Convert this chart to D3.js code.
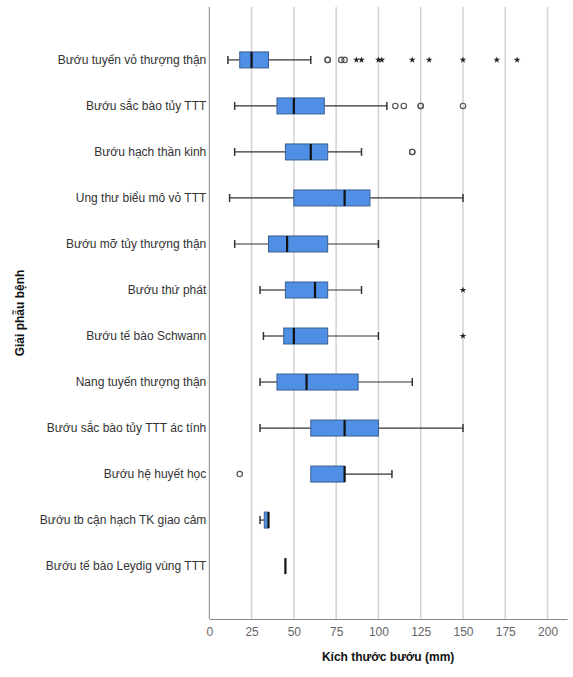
<!DOCTYPE html>
<html>
<head>
<meta charset="utf-8">
<script src="https://cdn.jsdelivr.net/npm/d3@7"></script>
<style>
  body { margin: 0; background: #fff; }
  svg { display: block; font-family: "Liberation Sans", Arial, sans-serif; }
</style>
</head>
<body>
<div id="box-chart"></div>
<script>
// categories top -> bottom
const categories = [
    "Bướu tuyến vỏ thượng thận",
    "Bướu sắc bào tủy TTT",
    "Bướu hạch thần kinh",
    "Ung thư biểu mô vỏ TTT",
    "Bướu mỡ tủy thượng thận",
    "Bướu thứ phát",
    "Bướu tế bào Schwann",
    "Nang tuyến thượng thận",
    "Bướu sắc bào tủy TTT ác tính",
    "Bướu hệ huyết học",
    "Bướu tb cận hạch TK giao cảm",
    "Bướu tế bào Leydig vùng TTT"
];
const whiskerLow  = [11, 15, 15, 12, 15, 30, 32, 30, 30, 60, 30, 45];
const q1          = [18, 40, 45, 50, 35, 45, 44, 40, 60, 60, 32.5, 45];
const median      = [25, 50, 60, 80, 46, 62.5, 50, 57.5, 80, 80, 35, 45];
const q3          = [35, 68, 70, 95, 70, 70, 70, 88, 100, 80, 35, 45];
const whiskerHigh = [60, 105, 90, 150, 100, 90, 100, 120, 150, 108, 35, 45];
const outlierCircles = [
    [70, 70, 78, 80],
    [110, 115, 125, 125, 150],
    [120, 120],
    [], [], [], [], [], [],
    [18],
    [], []
];
const outlierStars = [
    [87, 90, 100, 102, 120, 130, 150, 170, 182],
    [], [], [], [], [150], [150], [], [], [], [], []
];
const xTicks = [0, 25, 50, 75, 100, 125, 150, 175, 200];

const rows = categories.map((c, i) => ({
    name: c, lo: whiskerLow[i], q1: q1[i], med: median[i], q3: q3[i], hi: whiskerHigh[i],
    circles: outlierCircles[i], stars: outlierStars[i]
}));

const width = 573;
const height = 677;
const plotLeft = 209.3, plotRight = 567, plotTop = 7, plotBottom = 619;

const xScale = d3.scaleLinear().domain([0, 211.5]).range([plotLeft, plotRight]);
const yScale = d3.scalePoint().domain(categories).range([plotTop, plotBottom]).padding(1.15);

const boxH = 16;
const capH = 8;
const blue = "#4f8fe6";

const svg = d3.select("#box-chart")
    .append("svg")
    .attr("width", width)
    .attr("height", height)
    .attr("viewBox", `0 0 ${width} ${height}`);

// gridlines
svg.append("g")
    .selectAll("line")
    .data(xTicks.filter(t => t > 0))
    .join("line")
        .attr("x1", d => xScale(d)).attr("x2", d => xScale(d))
        .attr("y1", plotTop).attr("y2", plotBottom)
        .attr("stroke", "#d2d2d2")
        .attr("stroke-width", 1.5);

// axes
const bottomAxis = d3.axisBottom(xScale).tickValues(xTicks).tickSize(0).tickPadding(8);
const xAxis = svg.append("g")
    .attr("transform", `translate(0,${plotBottom})`)
    .call(bottomAxis);
xAxis.select(".domain").attr("stroke", "#888");
xAxis.selectAll("text").attr("font-size", 12).attr("fill", "#666").attr("font-family", null);

svg.append("line")
    .attr("x1", plotLeft).attr("x2", plotLeft)
    .attr("y1", plotTop).attr("y2", plotBottom)
    .attr("stroke", "#888");

const leftAxis = d3.axisLeft(yScale).tickSize(0).tickPadding(3);
const yAxis = svg.append("g")
    .attr("transform", `translate(${plotLeft},0)`)
    .call(leftAxis);
yAxis.select(".domain").remove();
yAxis.selectAll("text").attr("font-size", 12).attr("fill", "#333").attr("font-family", null);

// axis titles
svg.append("text")
    .text("Kích thước bướu (mm)")
    .attr("x", (plotLeft + plotRight) / 2)
    .attr("y", 661)
    .attr("text-anchor", "middle")
    .attr("font-size", 12)
    .attr("font-weight", "bold")
    .attr("fill", "#111");

svg.append("text")
    .text("Giải phẫu bệnh")
    .attr("transform", `translate(24,${(plotTop + plotBottom) / 2}) rotate(-90)`)
    .attr("text-anchor", "middle")
    .attr("font-size", 12)
    .attr("font-weight", "bold")
    .attr("fill", "#111");

// boxes
const g = svg.append("g")
    .selectAll(".row")
    .data(rows)
    .join("g")
        .attr("class", "row")
        .attr("transform", d => `translate(0,${yScale(d.name)})`);

// whiskers
g.append("line")
    .attr("x1", d => xScale(d.lo)).attr("x2", d => xScale(d.q1))
    .attr("stroke", "#333").attr("stroke-width", 1.2);
g.append("line")
    .attr("x1", d => xScale(d.q3)).attr("x2", d => xScale(d.hi))
    .attr("stroke", "#333").attr("stroke-width", 1.2);
g.filter(d => d.lo < d.q1).append("line")
    .attr("x1", d => xScale(d.lo)).attr("x2", d => xScale(d.lo))
    .attr("y1", -capH / 2).attr("y2", capH / 2)
    .attr("stroke", "#333").attr("stroke-width", 1.5);
g.filter(d => d.hi > d.q3).append("line")
    .attr("x1", d => xScale(d.hi)).attr("x2", d => xScale(d.hi))
    .attr("y1", -capH / 2).attr("y2", capH / 2)
    .attr("stroke", "#333").attr("stroke-width", 1.5);

g.filter(d => d.q3 > d.q1).append("rect")
    .attr("x", d => xScale(d.q1))
    .attr("y", -boxH / 2)
    .attr("width", d => xScale(d.q3) - xScale(d.q1))
    .attr("height", boxH)
    .attr("fill", blue)
    .attr("stroke", "#3b5f8f")
    .attr("stroke-width", 1);

// median
g.append("line")
    .attr("x1", d => xScale(d.med)).attr("x2", d => xScale(d.med))
    .attr("y1", -boxH / 2).attr("y2", boxH / 2)
    .attr("stroke", "#111")
    .attr("stroke-width", 2.2);

// outliers
g.selectAll(".circ")
    .data(d => d.circles)
    .join("circle")
        .attr("class", "circ")
        .attr("cx", d => xScale(d))
        .attr("cy", 0)
        .attr("r", 2.7)
        .attr("fill", "none")
        .attr("stroke", "#555")
        .attr("stroke-width", 1.2);

const star = d3.symbol().type(d3.symbolStar).size(14);
g.selectAll(".star")
    .data(d => d.stars)
    .join("path")
        .attr("class", "star")
        .attr("d", star)
        .attr("transform", d => `translate(${xScale(d)},0)`)
        .attr("fill", "#222");
</script>
</body>
</html>
